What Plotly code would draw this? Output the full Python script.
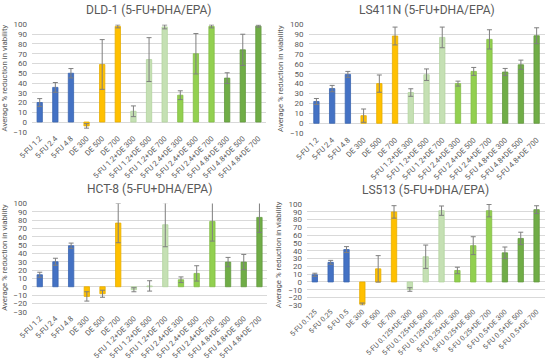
import plotly.graph_objects as go

# ---------------- data ----------------
cats_std = ["5-FU 1.2", "5-FU 2.4", "5-FU 4.8", "DE 300", "DE 500", "DE 700",
            "5-FU 1.2+DE 300", "5-FU 1.2+DE 500", "5-FU 1.2+DE 700",
            "5-FU 2.4+DE 300", "5-FU 2.4+DE 500", "5-FU 2.4+DE 700",
            "5-FU 4.8+DE 300", "5-FU 4.8+DE 500", "5-FU 4.8+DE 700"]
cats_ls513 = ["5-FU 0.125", "5-FU 0.25", "5-FU 0.5", "DE 300", "DE 500", "DE 700",
              "5-FU 0.125+DE 300", "5-FU 0.125+DE 500", "5-FU 0.125+DE 700",
              "5-FU 0.25+DE 300", "5-FU 0.25+DE 500", "5-FU 0.25+DE 700",
              "5-FU 0.5+DE 300", "5-FU 0.5+DE 500", "5-FU 0.5+DE 700"]

dld1_vals = [20, 35.5, 50, -4, 59, 98, 11, 64, 97.5, 27.5, 70, 98, 45, 74, 98.3]
dld1_err = [4, 5, 4.8, 2.3, 25.5, 1.5, 5.5, 22.5, 2, 4.5, 20.7, 1.5, 5.5, 16, 1]

ls411n_vals = [22, 35, 49.3, 7.7, 40, 88, 31, 49, 86.6, 40, 52.3, 84.6, 51.7, 59, 88.3]
ls411n_err = [3, 3.2, 3, 6.7, 8.7, 9, 3.8, 5.8, 10.4, 2.5, 4, 9.7, 3.6, 4.7, 8]

hct8_vals = [14.4, 30, 49.2, -11.6, -8.4, 76.4, -3.6, 1, 74.4, 8.4, 16, 78.4, 29.6, 29.6, 83.2]
hct8_err = [3, 4.2, 3.2, 5.6, 4.2, 23.6, 2.4, 6.2, 26.4, 3.4, 9.2, 23.6, 5.6, 9.2, 18]

ls513_vals = [9.2, 25.2, 41.6, -28.6, 16.8, 90, -9.7, 32.4, 91.6, 14.7, 46.6, 91.6, 37.4, 55.9, 92.9]
ls513_err = [2, 2.5, 3.8, 1.5, 17, 8, 2.3, 15, 6, 4.2, 11.5, 8, 7.5, 8, 5]

titles = ["DLD-1 (5-FU+DHA/EPA)", "LS411N (5-FU+DHA/EPA)",
          "HCT-8 (5-FU+DHA/EPA)", "LS513 (5-FU+DHA/EPA)"]

# ---------------- style ----------------
group_fill = ["#4472C4"] * 3 + ["#FFC000"] * 3 + ["#C5E0B4"] * 3 + ["#92D050"] * 3 + ["#70AD47"] * 3
group_line = ["#3A64B0"] * 3 + ["#E6AD00"] * 3 + ["#B3D49E"] * 3 + ["#83BD45"] * 3 + ["#62993D"] * 3

FONT = "Liberation Sans Narrow, Roboto, Liberation Sans, sans-serif"
TXT = "#595959"

panels = [
    (cats_std, dld1_vals, dld1_err, [0.058, 0.484], [0.634, 0.932], [-10, 100], 7.6),
    (cats_std, ls411n_vals, ls411n_err, [0.561, 0.990], [0.630, 0.933], [-10, 100], 7.6),
    (cats_std, hct8_vals, hct8_err, [0.058, 0.486], [0.134, 0.435], [-30, 100], 7.6),
    (cats_ls513, ls513_vals, ls513_err, [0.558, 0.990], [0.152, 0.433], [-30, 100], 7.2),
]

fig = go.Figure()
layout = dict(
    width=550, height=360,
    margin=dict(l=0, r=0, t=0, b=0),
    paper_bgcolor="white", plot_bgcolor="white",
    showlegend=False, bargap=0.66,
    font=dict(family=FONT, color=TXT),
)
annotations = []

for i, (cats, vals, errs, xd, yd, yr, xfs) in enumerate(panels):
    n = "" if i == 0 else str(i + 1)
    fig.add_trace(go.Bar(
        x=cats, y=vals,
        marker=dict(color=group_fill, line=dict(color=group_line, width=0.8)),
        error_y=dict(type="data", array=errs, visible=True, color="#7F7F7F",
                     thickness=1, width=2.5),
        xaxis="x" + n, yaxis="y" + n,
    ))
    layout["xaxis" + n] = dict(
        domain=xd, anchor="y" + n, type="category", automargin=False,
        tickangle=-45, tickfont=dict(size=xfs, color=TXT, family=FONT),
        showgrid=False, showline=False, ticks="", zeroline=False,
    )
    layout["yaxis" + n] = dict(
        domain=yd, anchor="x" + n, range=yr, dtick=10, automargin=False,
        tickfont=dict(size=8, color=TXT, family=FONT),
        gridcolor="#D9D9D9", gridwidth=1, zeroline=False, showline=False,
        ticks="", ticklabelstandoff=4,
        title=dict(text="Average % reduction in viability",
                   font=dict(size=7.8, color=TXT, family=FONT), standoff=5),
    )
    xc = (xd[0] + xd[1]) / 2
    annotations.append(dict(
        text=titles[i], x=xc, y=yd[1] + 0.04, xref="paper", yref="paper",
        showarrow=False, font=dict(size=12, color=TXT, family=FONT),
        xanchor="center", yanchor="middle",
    ))

layout["annotations"] = annotations
fig.update_layout(**layout)
fig.write_html("out.html", config={"displayModeBar": False},
               post_script="document.body.style.margin='0';")
